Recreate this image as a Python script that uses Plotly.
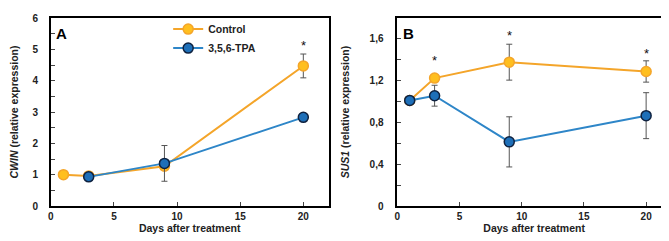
import plotly.graph_objects as go

days_ctrl = [1, 3, 9, 20]
days_tpa = [3, 9, 20]
days_b = [1, 3, 9, 20]

cwin_ctrl = [1.0, 0.96, 1.27, 4.47]
cwin_ctrl_err = [0, 0, 0, 0.38]
cwin_tpa = [0.93, 1.36, 2.83]
cwin_tpa_err = [0.11, 0.57, 0]

sus_ctrl = [1.01, 1.225, 1.377, 1.288]
sus_ctrl_err = [0, 0, 0.172, 0.102]
sus_tpa = [1.011, 1.056, 0.614, 0.865]
sus_tpa_err = [0, 0.10, 0.24, 0.22]

star_a_x = [20]
star_a_y = [5.12]
star_b_x = [3, 9, 20]
star_b_y = [1.39, 1.63, 1.46]

ORANGE_LINE = "#F4A52A"
ORANGE_FILL = "#FFBF1F"
BLUE_LINE = "#2E86C8"
BLUE_FILL = "#1E6FB8"
NAVY = "#0F2240"
FONT = "Liberation Sans"

fig = go.Figure()

def add(x, y, err, color_line, fill, outline, name, xa, ya, show):
    fig.add_trace(go.Scatter(
        x=x, y=y, mode="lines+markers", name=name, showlegend=show,
        xaxis=xa, yaxis=ya,
        line=dict(color=color_line, width=2),
        marker=dict(size=10, color=fill, line=dict(color=outline, width=1.5)),
        error_y=dict(type="data", array=err, visible=True, color="#555555",
                     thickness=1, width=3),
    ))

add(days_ctrl, cwin_ctrl, cwin_ctrl_err, ORANGE_LINE, ORANGE_FILL, ORANGE_LINE, "<b>Control</b>", "x", "y", True)
add(days_tpa, cwin_tpa, cwin_tpa_err, BLUE_LINE, BLUE_FILL, NAVY, "<b>3,5,6-TPA</b>", "x", "y", True)
add(days_b, sus_ctrl, sus_ctrl_err, ORANGE_LINE, ORANGE_FILL, ORANGE_LINE, "Control", "x2", "y2", False)
add(days_b, sus_tpa, sus_tpa_err, BLUE_LINE, BLUE_FILL, NAVY, "3,5,6-TPA", "x2", "y2", False)

for sx, sy in zip(star_a_x, star_a_y):
    fig.add_annotation(x=sx, y=sy, xref="x", yref="y", text="*", showarrow=False,
                       font=dict(size=13, color="#111", family=FONT))
for sx, sy in zip(star_b_x, star_b_y):
    fig.add_annotation(x=sx, y=sy, xref="x2", yref="y2", text="*", showarrow=False,
                       font=dict(size=13, color="#111", family=FONT))

fig.add_annotation(x=0.012, y=0.975, xref="x domain", yref="y domain", text="<b>A</b>",
                   showarrow=False, xanchor="left", yanchor="top",
                   font=dict(size=15, color="black", family=FONT))
fig.add_annotation(x=0.012, y=0.975, xref="x2 domain", yref="y2 domain", text="<b>B</b>",
                   showarrow=False, xanchor="left", yanchor="top",
                   font=dict(size=15, color="black", family=FONT))

tickfont = dict(size=10, color="#222", family=FONT)
common_x = dict(range=[0, 22], tickvals=[0, 5, 10, 15, 20],
                ticktext=["<b>0</b>", "<b>5</b>", "<b>10</b>", "<b>15</b>", "<b>20</b>"],
                ticks="inside", ticklen=4, tickcolor="#444", tickwidth=1,
                ticklabelstandoff=0,
                showline=True, linecolor="black", linewidth=1.5, mirror=True,
                showgrid=False, zeroline=False, tickfont=tickfont,
                title=dict(text="<b>Days after treatment</b>", font=dict(size=10.5, color="#222", family=FONT),
                           standoff=3))

ytitle_font = dict(size=10.5, color="#222", family=FONT)

fig.update_layout(
    width=669, height=241,
    margin=dict(l=0, r=0, t=10, b=43),
    paper_bgcolor="white", plot_bgcolor="white",
    font=dict(family=FONT),
    xaxis=dict(domain=[40/669, 319/669], anchor="y", **common_x),
    xaxis2=dict(domain=[388/669, 663/669], anchor="y2", **common_x),
    yaxis=dict(range=[0, 6], anchor="x", tickvals=[0, 1, 2, 3, 4, 5, 6],
               ticktext=[f"<b>{v}</b>" for v in [0, 1, 2, 3, 4, 5, 6]],
               ticks="inside", ticklen=4, tickcolor="#444", ticklabelstandoff=9,
               minor=dict(ticks="inside", dtick=0.5, ticklen=4, tickcolor="#444", showgrid=False),
               showline=True, linecolor="black", linewidth=1.5, mirror=True,
               showgrid=False, zeroline=False, tickfont=tickfont,
               title=dict(text="<b><i>CWIN</i> (relative expression)</b>",
                          font=ytitle_font, standoff=17)),
    yaxis2=dict(range=[0, 1.8], anchor="x2", tickvals=[0, 0.4, 0.8, 1.2, 1.6],
                ticktext=["<b>0</b>", "<b>0,4</b>", "<b>0,8</b>", "<b>1,2</b>", "<b>1,6</b>"],
                ticks="inside", ticklen=4, tickcolor="#444", ticklabelstandoff=10,
                minor=dict(ticks="inside", dtick=0.2, ticklen=4, tickcolor="#444", showgrid=False),
                showline=True, linecolor="black", linewidth=1.5, mirror=True,
                showgrid=False, zeroline=False, tickfont=tickfont,
                title=dict(text="<b><i>SUS1</i> (relative expression)</b>",
                           font=ytitle_font, standoff=18)),
    legend=dict(x=0.236, y=1.018, xanchor="left", yanchor="top", bgcolor="rgba(0,0,0,0)",
                font=dict(size=10.5, color="#222", family=FONT), itemwidth=30,
                tracegroupgap=0),
)

fig.write_html("out.html")
